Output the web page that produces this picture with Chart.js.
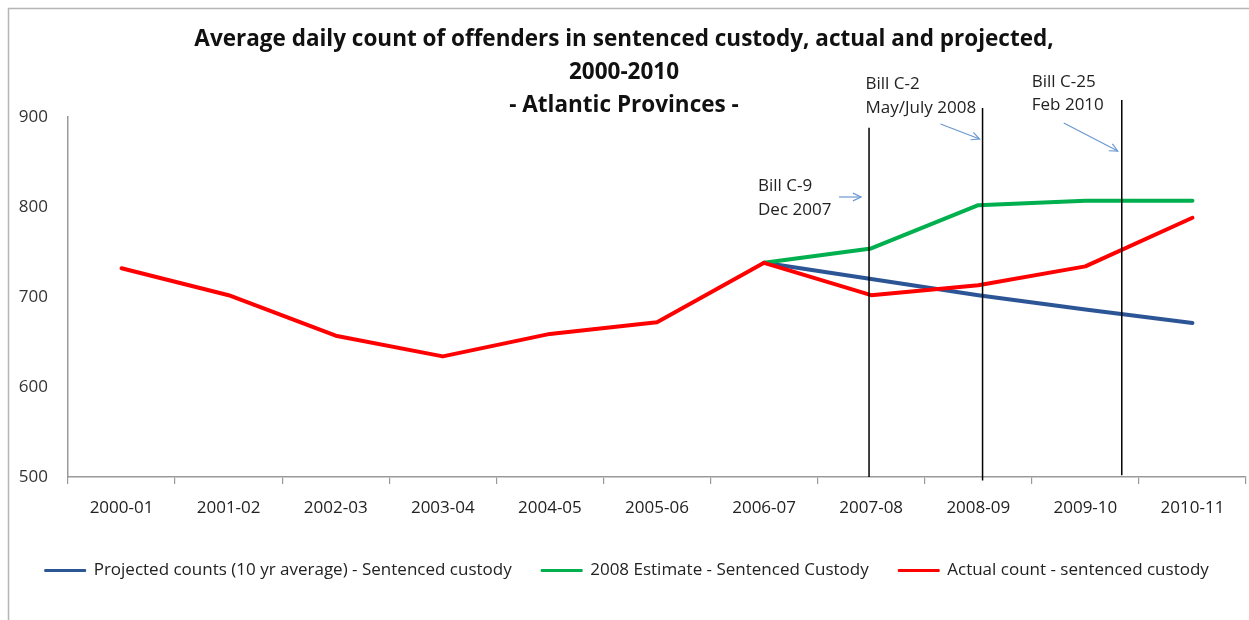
<!DOCTYPE html>
<html><head><meta charset="utf-8">
<script src="https://cdn.jsdelivr.net/npm/chart.js@4.4.0/dist/chart.umd.min.js"></script>
<style>html,body{margin:0;padding:0;background:#fff}#wrap{width:1249px;height:620px;position:relative}</style>
</head><body><div id="wrap"><canvas id="c" width="1249" height="620"></canvas></div>
<script>
// ---- data ----
const categories = ['2000-01','2001-02','2002-03','2003-04','2004-05','2005-06','2006-07','2007-08','2008-09','2009-10','2010-11'];
const projected   = [null,null,null,null,null,null,738,720,702,686,671];
const estimate2008 = [null,null,null,null,null,null,738,754,802,807,807];
const actual      = [732,702,657,634,659,672,738,702,713,734,788];
const seriesNames = ['Projected counts (10 yr average) - Sentenced custody','2008 Estimate - Sentenced Custody','Actual count - sentenced custody'];
const yMin = 500, yMax = 900, yStep = 100;
const titleLines = ['Average daily count of offenders in sentenced custody, actual and projected,','2000-2010','- Atlantic Provinces -'];
const billLabels = [['Bill C-9','Dec 2007'],['Bill C-2','May/July 2008'],['Bill C-25','Feb 2010']];
const billPositions = [6.98, 8.04, 9.34];      // position on category axis
const billLineTop = [888, 910, 919];            // value units
const billLineBottom = [500, 496, 502];

// ---- styles ----
const FONT = "'Open Sans', sans-serif";
const colors = ['#2c5596','#00b04f','#ff0000'];
// label / arrow offsets relative to (line x, top of plot)
const billStyle = [
  {tx:-111, ty:[69,93], a:[-30,80,-8,80]},
  {tx:-117, ty:[-33,-9], a:[-42,7,-3,22]},
  {tx:-90,  ty:[-35,-12], a:[-58,6,-4,34]}
];

const decor = {
  id:'decor',
  beforeDraw(chart){
    const c = chart.ctx;
    c.save();
    c.fillStyle='#fff'; c.fillRect(0,0,chart.width,chart.height);
    c.strokeStyle='#b5b5b5'; c.lineWidth=1.5;
    c.beginPath(); c.moveTo(8.5,chart.height); c.lineTo(8.5,8.5); c.lineTo(chart.width,8.5); c.stroke();
    c.fillStyle='#111'; c.font="bold 22.5px "+FONT; c.textAlign='center'; c.textBaseline='middle';
    const ty=[40,73,106];
    titleLines.forEach((t,i)=>c.fillText(t,624,ty[i]));
    c.restore();
  },
  afterDatasetsDraw(chart){
    const c = chart.ctx, xs = chart.scales.x, ys = chart.scales.y;
    const top = ys.getPixelForValue(yMax);
    c.save();
    billPositions.forEach((p,i)=>{
      const x = xs.getPixelForValue(p);
      c.strokeStyle='#000'; c.lineWidth=1.5;
      c.beginPath(); c.moveTo(x, ys.getPixelForValue(billLineTop[i])); c.lineTo(x, ys.getPixelForValue(billLineBottom[i])); c.stroke();
      const s = billStyle[i];
      c.fillStyle='#222'; c.font="17px "+FONT; c.textAlign='left'; c.textBaseline='middle';
      billLabels[i].forEach((t,j)=>c.fillText(t, x+s.tx, top+s.ty[j]));
      const x1=x+s.a[0], y1=top+s.a[1], x2=x+s.a[2], y2=top+s.a[3];
      c.strokeStyle='#6b98d0'; c.lineWidth=1.2;
      c.beginPath(); c.moveTo(x1,y1); c.lineTo(x2,y2); c.stroke();
      const ang=Math.atan2(y2-y1,x2-x1), h=9;
      c.beginPath();
      c.moveTo(x2-h*Math.cos(ang-0.45), y2-h*Math.sin(ang-0.45));
      c.lineTo(x2,y2);
      c.lineTo(x2-h*Math.cos(ang+0.45), y2-h*Math.sin(ang+0.45));
      c.stroke();
    });
    c.restore();
  }
};

const mk = (i,data,order)=>({label:seriesNames[i],data,borderColor:colors[i],backgroundColor:colors[i],borderWidth:4,pointRadius:0,tension:0,order,spanGaps:false,borderCapStyle:'round',borderJoinStyle:'round'});

new Chart(document.getElementById('c'),{
  type:'line',
  data:{labels:categories,datasets:[mk(0,projected,2),mk(1,estimate2008,1),mk(2,actual,0)]},
  options:{
    responsive:false, animation:false, events:[],
    layout:{padding:{left:8,right:3,top:117,bottom:31}},
    plugins:{
      title:{display:false}, tooltip:{enabled:false},
      legend:{position:'bottom',
        labels:{boxWidth:40,boxHeight:1,padding:30,color:'#222',font:{family:FONT,size:17},
          generateLabels:(chart)=>Chart.defaults.plugins.legend.labels.generateLabels(chart).map(l=>Object.assign(l,{lineWidth:2})),
          sort:(a,b)=>a.datasetIndex-b.datasetIndex}}
    },
    scales:{
      x:{offset:true,
        grid:{offset:true,drawOnChartArea:false,drawTicks:true,tickLength:7,color:'#9a9a9a',lineWidth:1.2},
        border:{color:'#9a9a9a',width:1.5},
        ticks:{color:'#222',font:{family:FONT,size:17},padding:14,maxRotation:0,autoSkip:false},
        afterFit(s){s.height=55;}
      },
      y:{min:yMin,max:yMax,
        ticks:{stepSize:yStep,color:'#333',font:{family:FONT,size:17},padding:20},
        grid:{display:true,drawOnChartArea:false,drawTicks:false},
        border:{color:'#9a9a9a',width:1.5},
        afterFit(s){s.width=60;}
      }
    }
  },
  plugins:[decor]
});
</script></body></html>
